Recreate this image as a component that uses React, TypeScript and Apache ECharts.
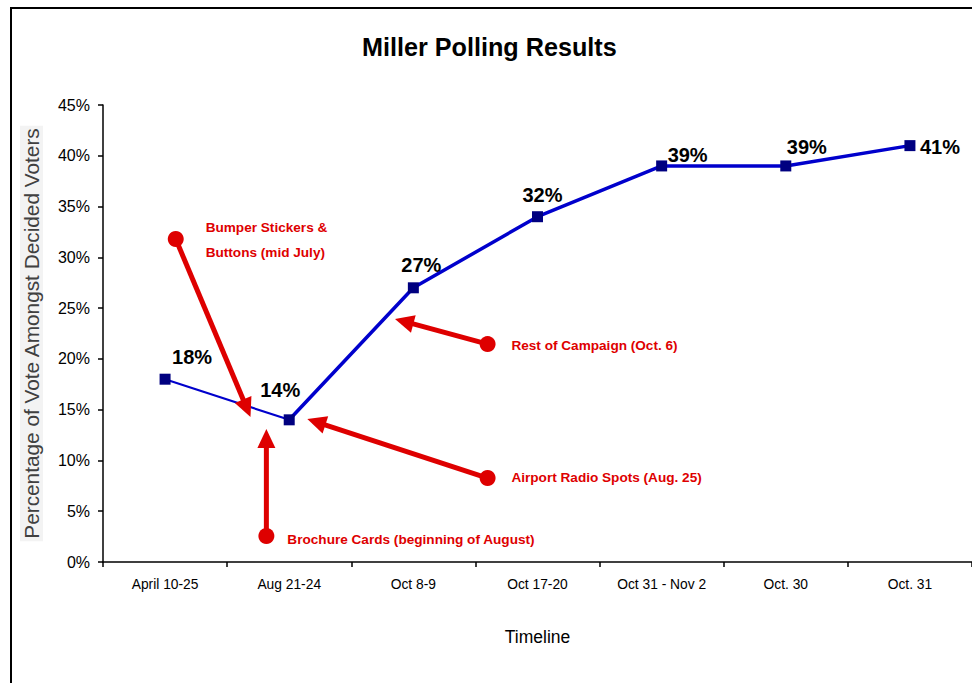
import React, { useEffect, useRef } from 'react';
import * as echarts from 'echarts';

const categories = ['April 10-25', 'Aug 21-24', 'Oct 8-9', 'Oct 17-20', 'Oct 31 - Nov 2', 'Oct. 30', 'Oct. 31'];
const voteShare = [18, 14, 27, 34, 39, 39, 41];
const pointLabels = ['18%', '14%', '27%', '32%', '39%', '39%', '41%'];
const labelOffsets = [[27, -22], [-9, -30], [8, -23], [5, -22], [26, -11], [21, -19], [30, 1]];

const annotationTexts = [
  'Bumper Stickers &\nButtons (mid July)',
  'Brochure Cards (beginning of August)',
  'Airport Radio Spots (Aug. 25)',
  'Rest of Campaign (Oct. 6)',
];
// [fractional category index, value]
const annotationFrom = [[0.086, 31.8], [0.816, 2.56], [2.598, 8.27], [2.598, 21.46]];
const annotationTo = [[0.688, 14.28], [0.816, 13.1], [1.146, 14.08], [1.852, 23.93]];
const annotationTextAt = [[0.327, 31.66], [0.985, 2.17], [2.79, 8.3], [2.79, 21.27]];

const FONT = '"Liberation Sans", Arial, sans-serif';
const RED = '#DE0000';

export default function App() {
  const ref = useRef<HTMLDivElement>(null);
  useEffect(() => {
    if (!ref.current) return;
    const chart = echarts.init(ref.current, undefined, { renderer: 'svg' });
    const seg1 = voteShare.map((v, i) => (i <= 1 ? v : null));
    const seg2 = voteShare.map((v, i) => (i >= 1 ? v : null));
    chart.setOption({
      animation: false,
      textStyle: { fontFamily: FONT },
      title: {
        text: 'Miller Polling Results',
        left: 357,
        top: 29,
        textStyle: { fontFamily: FONT, fontSize: 25.2, fontWeight: 'bold', color: '#000' },
      },
      grid: { left: 103, top: 105, width: 872, height: 457, containLabel: false },
      xAxis: {
        type: 'category',
        data: categories,
        boundaryGap: true,
        name: 'Timeline',
        nameLocation: 'middle',
        nameGap: 66,
        nameTextStyle: { fontFamily: FONT, fontSize: 17.5, color: '#000' },
        axisLine: { lineStyle: { color: '#000', width: 1.5 } },
        axisTick: { show: true, length: 5, lineStyle: { color: '#000', width: 1.5 } },
        axisLabel: { color: '#000', fontSize: 13.8, fontFamily: FONT, margin: 15 },
        splitLine: { show: false },
      },
      yAxis: {
        type: 'value',
        min: 0,
        max: 45,
        interval: 5,
        name: 'Percentage of Vote Amongst Decided Voters',
        nameLocation: 'middle',
        nameGap: 60,
        nameTextStyle: {
          fontFamily: FONT,
          fontSize: 20.8,
          color: '#404040',
          backgroundColor: '#f3f3f3',
          padding: [1, 2],
        },
        axisLine: { show: true, lineStyle: { color: '#000', width: 1.5 } },
        axisTick: { show: true, length: 5, lineStyle: { color: '#000', width: 1.5 } },
        axisLabel: { color: '#000', fontSize: 16, fontFamily: FONT, margin: 13, formatter: '{value}%' },
        splitLine: { show: false },
      },
      series: [
        {
          type: 'line',
          data: seg1,
          symbol: 'none',
          lineStyle: { color: '#0000CC', width: 2.2 },
          z: 2,
        },
        {
          type: 'line',
          data: seg2,
          symbol: 'none',
          lineStyle: { color: '#0000CC', width: 3.5 },
          z: 2,
        },
        {
          type: 'scatter',
          data: voteShare.map((v, i) => ({
            value: v,
            label: { offset: labelOffsets[i] },
          })),
          symbol: 'rect',
          symbolSize: 11,
          itemStyle: { color: '#000080', opacity: 1 },
          z: 3,
          label: {
            show: true,
            position: 'inside',
            formatter: (p: any) => pointLabels[p.dataIndex],
            fontFamily: FONT,
            fontSize: 20,
            fontWeight: 'bold',
            color: '#000',
            opacity: 1,
          },
        },
      ],
    });

    const p0 = chart.convertToPixel({ gridIndex: 0 }, [0, 0]) as number[];
    const p1 = chart.convertToPixel({ gridIndex: 0 }, [1, 0]) as number[];
    const toPix = (pt: number[]) => {
      const py = chart.convertToPixel({ gridIndex: 0 }, [0, pt[1]]) as number[];
      return [p0[0] + pt[0] * (p1[0] - p0[0]), py[1]];
    };

    const elements: any[] = [
      {
        type: 'rect',
        silent: true,
        shape: { x: 11, y: 8, width: 1200, height: 1000 },
        style: { fill: 'none', stroke: '#000', lineWidth: 2 },
        z: 100,
      },
    ];
    const headLen = 19;
    const headHalf = 9;
    annotationTexts.forEach((txt, i) => {
      const a = toPix(annotationFrom[i]);
      const b = toPix(annotationTo[i]);
      const dx = b[0] - a[0];
      const dy = b[1] - a[1];
      const len = Math.sqrt(dx * dx + dy * dy);
      const ux = dx / len;
      const uy = dy / len;
      const bx = b[0] - ux * headLen;
      const by = b[1] - uy * headLen;
      elements.push({
        type: 'line',
        silent: true,
        shape: { x1: a[0], y1: a[1], x2: bx + ux * 2, y2: by + uy * 2 },
        style: { stroke: RED, lineWidth: 5 },
        z: 50,
      });
      elements.push({
        type: 'polygon',
        silent: true,
        shape: {
          points: [
            [b[0], b[1]],
            [bx - uy * headHalf, by + ux * headHalf],
            [bx + uy * headHalf, by - ux * headHalf],
          ],
        },
        style: { fill: RED },
        z: 50,
      });
      elements.push({
        type: 'circle',
        silent: true,
        shape: { cx: a[0], cy: a[1], r: 8 },
        style: { fill: RED },
        z: 50,
      });
      const t = toPix(annotationTextAt[i]);
      elements.push({
        type: 'text',
        silent: true,
        x: t[0],
        y: t[1],
        style: {
          text: txt,
          fill: RED,
          font: `bold 13.6px ${FONT}`,
          verticalAlign: 'middle',
          textVerticalAlign: 'middle',
          align: 'left',
          lineHeight: 25,
        },
        z: 50,
      });
    });
    chart.setOption({ graphic: elements });

    return () => chart.dispose();
  }, []);
  return (
    <div
      ref={ref}
      style={{ position: 'fixed', left: 0, top: 0, width: 972, height: 683, background: '#fff' }}
    />
  );
}
